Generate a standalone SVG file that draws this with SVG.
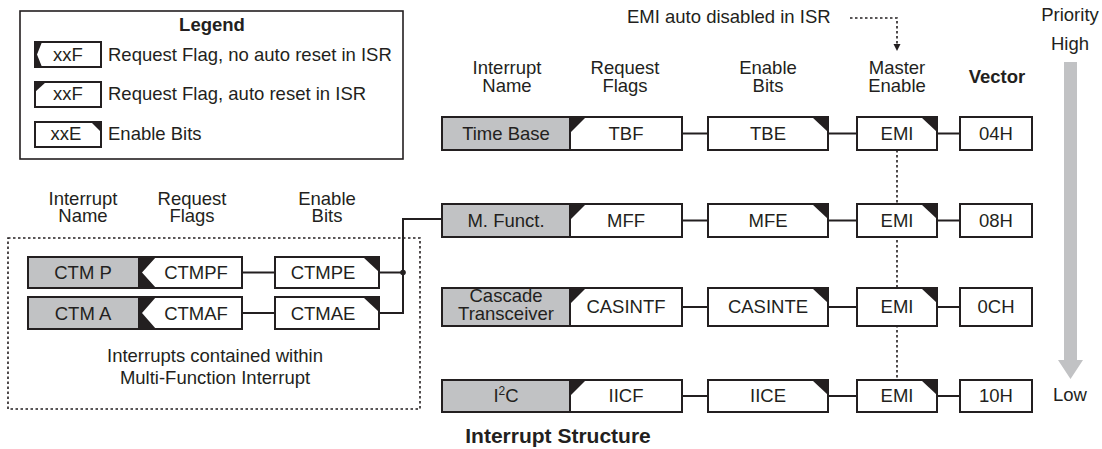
<svg xmlns="http://www.w3.org/2000/svg" width="1102" height="449" viewBox="0 0 1102 449">
<defs>
<style>
.b{fill:#fff;stroke:#231f20;stroke-width:2}
.g{fill:#c1c2c4;stroke:#231f20;stroke-width:2}
.k{fill:#231f20}
.t{font-family:"Liberation Sans",Arial,sans-serif;font-size:18.5px;fill:#231f20;text-anchor:middle}
.l{text-anchor:start}
.bold{font-weight:bold}
.c{stroke:#231f20;stroke-width:2;fill:none}
.d{stroke:#231f20;stroke-width:1.6;stroke-dasharray:2.5 2.5;fill:none}
</style>
<marker id="ah" markerWidth="8" markerHeight="8" refX="4" refY="7" orient="0" markerUnits="userSpaceOnUse">
<polygon points="0.5,0 7.5,0 4,7" fill="#231f20"/>
</marker>
</defs>
<rect width="1102" height="449" fill="#fff"/>

<g id="legend">
<rect x="20" y="11" width="383" height="148" fill="#fff" stroke="#231f20" stroke-width="1.6"/>
<text class="t bold" x="212" y="31">Legend</text>
<rect class="b" x="35" y="42" width="66" height="25"/>
<polygon class="k" points="35,42 42,42 37,54.5 42,67 35,67"/>
<text class="t" x="68" y="61">xxF</text>
<text class="t l" x="108" y="61">Request Flag, no auto reset in ISR</text>
<rect class="b" x="35" y="82" width="66" height="25"/>
<polygon class="k" points="35,82 46,82 35,92"/>
<text class="t" x="68" y="100">xxF</text>
<text class="t l" x="108" y="100">Request Flag, auto reset in ISR</text>
<rect class="b" x="35" y="122" width="66" height="25"/>
<polygon class="k" points="91,122 101,122 101,132"/>
<text class="t" x="66" y="140">xxE</text>
<text class="t l" x="108" y="140">Enable Bits</text>
</g>

<g id="left-headers">
<text class="t" x="83" y="205">Interrupt</text>
<text class="t" x="83" y="222">Name</text>
<text class="t" x="192" y="205">Request</text>
<text class="t" x="192" y="222">Flags</text>
<text class="t" x="327" y="205">Enable</text>
<text class="t" x="327" y="222">Bits</text>
</g>

<g id="mf-group">
<rect x="8" y="238" width="412" height="171" class="d"/>
<text class="t" x="215" y="362">Interrupts contained within</text>
<text class="t" x="215" y="384">Multi-Function Interrupt</text>
</g>

<g id="main-headers">
<text class="t" x="507" y="74">Interrupt</text>
<text class="t" x="507" y="92">Name</text>
<text class="t" x="625" y="74">Request</text>
<text class="t" x="625" y="92">Flags</text>
<text class="t" x="768" y="74">Enable</text>
<text class="t" x="768" y="92">Bits</text>
<text class="t" x="897" y="74">Master</text>
<text class="t" x="897" y="92">Enable</text>
<text class="t bold" x="997" y="83">Vector</text>
<text class="t l" x="627" y="23">EMI auto disabled in ISR</text>
<text class="t" x="1070" y="21">Priority</text>
<text class="t" x="1070" y="50">High</text>
<text class="t" x="1070" y="401">Low</text>
<text class="t bold" x="558" y="443" style="font-size:21px">Interrupt Structure</text>
</g>

<g id="priority-arrow">
<polygon points="1064,62 1077,62 1077,360 1083,360 1070.5,379 1058,360 1064,360" fill="#c1c2c4"/>
</g>

<g id="connectors">
<path class="d" d="M850,18 H897 V51" marker-end="url(#ah)"/>
<line class="d" x1="897" y1="150" x2="897" y2="380"/>
<line class="c" x1="242" y1="272.5" x2="275" y2="272.5"/>
<line class="c" x1="242" y1="313" x2="275" y2="313"/>
<line class="c" x1="379" y1="272.5" x2="403" y2="272.5"/>
<path class="c" d="M379,313 H403 V219 H442"/>
<circle cx="403" cy="272.5" r="2.8" fill="#231f20"/>
<line class="c" x1="682" y1="133.5" x2="708" y2="133.5"/>
<line class="c" x1="828" y1="133.5" x2="857" y2="133.5"/>
<line class="c" x1="937" y1="133.5" x2="960" y2="133.5"/>
<line class="c" x1="682" y1="220.5" x2="708" y2="220.5"/>
<line class="c" x1="828" y1="220.5" x2="857" y2="220.5"/>
<line class="c" x1="937" y1="220.5" x2="960" y2="220.5"/>
<line class="c" x1="682" y1="307" x2="708" y2="307"/>
<line class="c" x1="828" y1="307" x2="857" y2="307"/>
<line class="c" x1="937" y1="307" x2="960" y2="307"/>
<line class="c" x1="682" y1="396" x2="708" y2="396"/>
<line class="c" x1="828" y1="396" x2="857" y2="396"/>
<line class="c" x1="937" y1="396" x2="960" y2="396"/>
</g>

<g id="ctmp">
<rect class="g" x="28" y="257" width="111" height="31"/>
<text class="t" x="83" y="279">CTM P</text>
<rect class="b" x="139" y="257" width="103" height="31"/>
<polygon class="k" points="139,257 156,257 142,272.5 156,288 139,288"/>
<text class="t" x="196" y="279">CTMPF</text>
<rect class="b" x="275" y="257" width="104" height="31"/>
<polygon class="k" points="363,257 379,257 379,272"/>
<text class="t" x="323" y="279">CTMPE</text>
</g>

<g id="ctma">
<rect class="g" x="28" y="297" width="111" height="32"/>
<text class="t" x="83" y="320">CTM A</text>
<rect class="b" x="139" y="297" width="103" height="32"/>
<polygon class="k" points="139,297 156,297 142,313 156,329 139,329"/>
<text class="t" x="196" y="320">CTMAF</text>
<rect class="b" x="275" y="297" width="104" height="32"/>
<polygon class="k" points="363,297 379,297 379,312"/>
<text class="t" x="323" y="320">CTMAE</text>
</g>

<g id="timebase">
<rect class="g" x="442" y="117" width="128" height="33"/>
<text class="t" x="506" y="140">Time Base</text>
<rect class="b" x="570" y="117" width="112" height="33"/>
<polygon class="k" points="570,117 586,117 571,132"/>
<text class="t" x="626" y="140">TBF</text>
<rect class="b" x="708" y="117" width="120" height="33"/>
<polygon class="k" points="812,117 828,117 828,132"/>
<text class="t" x="768" y="140">TBE</text>
<rect class="b" x="857" y="117" width="80" height="33"/>
<polygon class="k" points="921,117 937,117 937,132"/>
<text class="t" x="897" y="140">EMI</text>
<rect class="b" x="960" y="117" width="72" height="33"/>
<text class="t" x="996" y="140">04H</text>
</g>

<g id="mfunct">
<rect class="g" x="442" y="204" width="128" height="33"/>
<text class="t" x="506" y="227">M. Funct.</text>
<rect class="b" x="570" y="204" width="112" height="33"/>
<polygon class="k" points="570,204 586,204 571,219"/>
<text class="t" x="626" y="227">MFF</text>
<rect class="b" x="708" y="204" width="120" height="33"/>
<polygon class="k" points="812,204 828,204 828,219"/>
<text class="t" x="768" y="227">MFE</text>
<rect class="b" x="857" y="204" width="80" height="33"/>
<polygon class="k" points="921,204 937,204 937,219"/>
<text class="t" x="897" y="227">EMI</text>
<rect class="b" x="960" y="204" width="72" height="33"/>
<text class="t" x="996" y="227">08H</text>
</g>

<g id="cascade">
<rect class="g" x="442" y="288" width="128" height="38"/>
<text class="t" x="506" y="302">Cascade</text>
<text class="t" x="506" y="320">Transceiver</text>
<rect class="b" x="570" y="288" width="112" height="38"/>
<polygon class="k" points="570,288 586,288 571,303"/>
<text class="t" x="626" y="313">CASINTF</text>
<rect class="b" x="708" y="288" width="120" height="38"/>
<polygon class="k" points="812,288 828,288 828,303"/>
<text class="t" x="768" y="313">CASINTE</text>
<rect class="b" x="857" y="288" width="80" height="38"/>
<polygon class="k" points="921,288 937,288 937,303"/>
<text class="t" x="897" y="313">EMI</text>
<rect class="b" x="960" y="288" width="72" height="38"/>
<text class="t" x="996" y="313">0CH</text>
</g>

<g id="i2c">
<rect class="g" x="442" y="380" width="128" height="32"/>
<text class="t" x="506" y="402">I<tspan dy="-7" style="font-size:12px">2</tspan><tspan dy="7">C</tspan></text>
<rect class="b" x="570" y="380" width="112" height="32"/>
<polygon class="k" points="570,380 586,380 571,395"/>
<text class="t" x="626" y="402">IICF</text>
<rect class="b" x="708" y="380" width="120" height="32"/>
<polygon class="k" points="812,380 828,380 828,395"/>
<text class="t" x="768" y="402">IICE</text>
<rect class="b" x="857" y="380" width="80" height="32"/>
<polygon class="k" points="921,380 937,380 937,395"/>
<text class="t" x="897" y="402">EMI</text>
<rect class="b" x="960" y="380" width="72" height="32"/>
<text class="t" x="996" y="402">10H</text>
</g>
</svg>
